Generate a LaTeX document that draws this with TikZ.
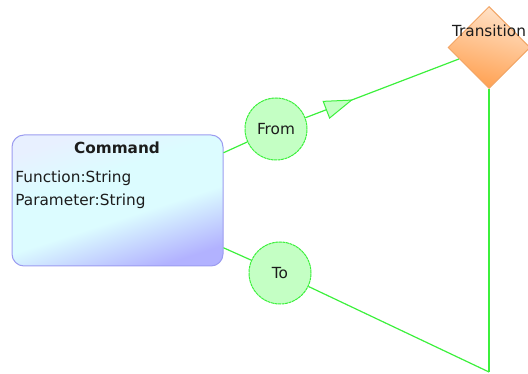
\documentclass[tikz,border=0pt]{standalone}
\usepackage{fontspec}
\setmainfont{DejaVu Sans}
\usepackage{xcolor}
\usetikzlibrary{shapes.geometric,arrows.meta,decorations.markings}

\definecolor{linegreen}{HTML}{3CF03C}
\definecolor{circlefill}{HTML}{C4FFC4}
\definecolor{cmdborder}{HTML}{9C9CF0}
\definecolor{cmdtop}{HTML}{E8F0FF}
\definecolor{cmdmid}{HTML}{DCFCFF}
\definecolor{cmdbot}{HTML}{B2B2FF}
\definecolor{transborder}{HTML}{F2A566}
\definecolor{transtop}{HTML}{FFE2C8}
\definecolor{transbot}{HTML}{FFA050}
\definecolor{textgray}{HTML}{1C1C1C}

\pgfdeclareverticalshading{cmdshade}{100bp}{color(0bp)=(cmdbot); color(25bp)=(cmdbot);
  color(44bp)=(cmdmid); color(60bp)=(cmdmid); color(75bp)=(cmdtop); color(100bp)=(cmdtop)}

\begin{document}
\begin{tikzpicture}[x=1pt, y=-1pt, thick,
                font=\fontsize{15.3}{20}\selectfont, text=textgray,
                class node/.style={rectangle, rounded corners=12pt, draw=cmdborder,
                  line width=1pt, shading=cmdshade, shading angle=18,
                  minimum width=211pt, minimum height=131pt},
                role node/.style={circle, draw=linegreen, fill=circlefill,
                  line width=1pt, dash pattern=on 3pt off 0.6pt,
                  minimum size=62pt, inner sep=0pt},
                state node/.style={diamond, aspect=1, draw=transborder, line width=1pt,
                  top color=transtop, bottom color=transbot, shading angle=-15,
                  minimum width=82pt, minimum height=82pt, inner sep=0pt},
                link/.style={draw=linegreen, line width=1.2pt},
                nav/.style={postaction={decorate}, decoration={markings,
                  mark=at position 0.31 with {\arrow{Triangle[length=29pt, width=19pt,
                    fill=circlefill, line width=1pt]}}}}]

  \useasboundingbox (0,0) rectangle (528,374);

  % nodes
  \node[class node] (cmd) at (117.5,200.5) {};
  \node[anchor=base, font=\fontsize{15.3}{20}\selectfont\bfseries] (cmdtitle) at (117,154) {Command};
  \node[anchor=base west, inner sep=0pt] (cmdfunc) at (15,183) {Function:String};
  \node[anchor=base west, inner sep=0pt] (cmdparam) at (15,206) {Parameter:String};

  \node[role node] (from) at (276,129) {From};
  \node[role node] (to) at (280,273) {To};

  \node[state node] (trans) at (489,47.5) {};
  \node[anchor=base] (translabel) at (489,37) {Transition};

  \coordinate (corner) at (489,372);

  % connectors
  \path
    (cmd) edge [link] (from)
    (from) edge [link, nav] (trans)
    (cmd) edge [link] (to)
    (to) edge [link] (corner)
    (corner) edge [link] (trans);
\end{tikzpicture}
\end{document}
